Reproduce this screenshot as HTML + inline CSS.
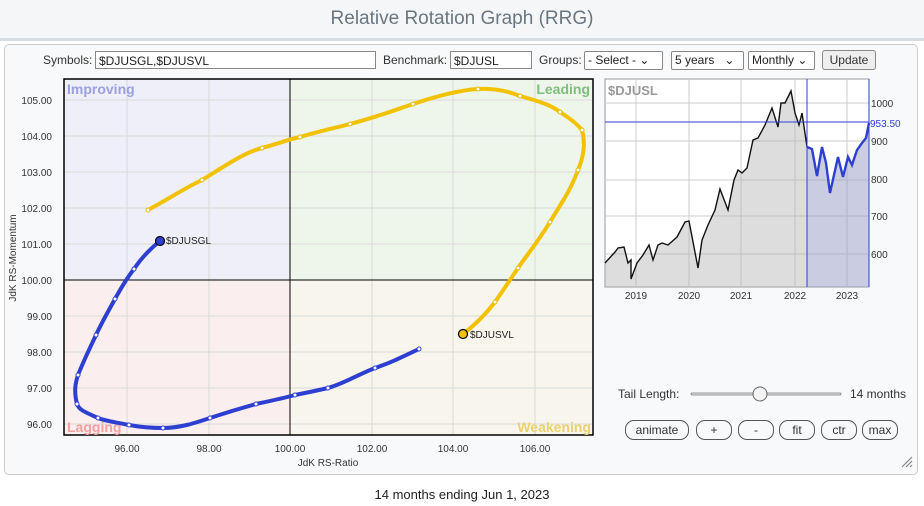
<!DOCTYPE html>
<html><head><meta charset="utf-8"><style>
body{margin:0;width:924px;height:506px;background:#fff;font-family:"Liberation Sans",Arial,sans-serif;overflow:hidden;position:relative}
.title{position:absolute;left:0;top:0;width:924px;height:38px;background:#f5f6f7;border-bottom:3px solid #d8dde2;text-align:center;line-height:38px;font-size:19px;color:#6b7680}
.panel{position:absolute;left:4px;top:44px;width:912px;height:429px;background:#f8f9fa;border:1px solid #ccc;border-radius:5px}
.lbl{position:absolute;font-size:12px;color:#333}
.inp{position:absolute;height:18px;border:1px solid #888;background:#fff;font-size:12px;line-height:18px;padding-left:3px;color:#222;box-sizing:border-box}
.sel{position:absolute;height:19px;border:1px solid #888;background:#fff;font-size:12px;line-height:17px;padding-left:3px;border-radius:2px;box-sizing:border-box;color:#222}
.btn{position:absolute;height:20px;border:1px solid #555;border-radius:9px;font-size:12px;line-height:19px;text-align:center;color:#333;box-sizing:border-box;background:#f8f9fa}
.foot{position:absolute;top:487px;left:0;width:924px;text-align:center;font-size:13px;color:#222}
</style></head><body>
<div class="title">Relative Rotation Graph (RRG)</div>
<div class="panel"></div>
<div class="lbl" style="left:43px;top:53px">Symbols:</div>
<div class="inp" style="left:95px;top:51px;width:281px">$DJUSGL,$DJUSVL</div>
<div class="lbl" style="left:383px;top:53px">Benchmark:</div>
<div class="inp" style="left:450px;top:51px;width:82px">$DJUSL</div>
<div class="lbl" style="left:539px;top:53px">Groups:</div>
<div class="sel" style="left:584px;top:51px;width:79px">- Select - ⌄</div>
<div class="sel" style="left:671px;top:51px;width:73px">5 years &nbsp;&nbsp;⌄</div>
<div class="sel" style="left:748px;top:51px;width:67px">Monthly ⌄</div>
<div class="btn" style="left:822px;top:50px;width:54px;border-radius:3px;background:#eee;border-color:#888">Update</div>

<svg width="924" height="506" style="position:absolute;left:0;top:0" font-family="Liberation Sans, Arial, sans-serif">
<rect x="64" y="79" width="226" height="201" fill="#eeeff8"/>
<rect x="290" y="79" width="303" height="201" fill="#eef5ea"/>
<rect x="64" y="280" width="226" height="155" fill="#fbeeee"/>
<rect x="290" y="280" width="303" height="155" fill="#f8f6ec"/>
<g stroke="#d9d9d9" stroke-width="1">
<line x1="127" y1="79" x2="127" y2="435"/><line x1="209" y1="79" x2="209" y2="435"/><line x1="372" y1="79" x2="372" y2="435"/><line x1="453" y1="79" x2="453" y2="435"/><line x1="535" y1="79" x2="535" y2="435"/>
<line x1="64" y1="100" x2="593" y2="100"/><line x1="64" y1="136" x2="593" y2="136"/><line x1="64" y1="172" x2="593" y2="172"/><line x1="64" y1="208" x2="593" y2="208"/><line x1="64" y1="244" x2="593" y2="244"/><line x1="64" y1="316" x2="593" y2="316"/><line x1="64" y1="352" x2="593" y2="352"/><line x1="64" y1="388" x2="593" y2="388"/><line x1="64" y1="424" x2="593" y2="424"/>
</g>
<line x1="290" y1="79" x2="290" y2="435" stroke="#000"/>
<line x1="64" y1="280" x2="593" y2="280" stroke="#000"/>
<rect x="64" y="79" width="529" height="356" fill="none" stroke="#000" stroke-width="1.5"/>
<g font-size="14" font-weight="bold">
<text x="67" y="94" fill="#9c9fe0">Improving</text>
<text x="590" y="94" fill="#7cc07a" text-anchor="end">Leading</text>
<text x="67" y="432" fill="#f3a0a0">Lagging</text>
<text x="591" y="432" fill="#ead070" text-anchor="end">Weakening</text>
</g>
<g font-size="10" fill="#333" text-anchor="end">
<text x="52" y="104">105.00</text><text x="52" y="140">104.00</text><text x="52" y="176">103.00</text><text x="52" y="212">102.00</text><text x="52" y="248">101.00</text><text x="52" y="284">100.00</text><text x="52" y="320">99.00</text><text x="52" y="356">98.00</text><text x="52" y="392">97.00</text><text x="52" y="428">96.00</text>
</g>
<g font-size="10" fill="#333" text-anchor="middle">
<text x="127" y="452">96.00</text><text x="209" y="452">98.00</text><text x="290" y="452">100.00</text><text x="372" y="452">102.00</text><text x="453" y="452">104.00</text><text x="535" y="452">106.00</text>
<text x="328" y="466">JdK RS-Ratio</text>
</g>
<text x="0" y="0" font-size="10" fill="#333" text-anchor="middle" transform="translate(16,258) rotate(-90)">JdK RS-Momentum</text>

<path d="M148,210 C170,198 185,188 202,180 C225,166 245,152 262,148 C280,143 290,139 300,137 C320,131 335,128 350,124 C380,116 395,110 413,104 C440,95 460,90 478,89 C495,88 508,91 520,96 C545,103 552,106 560,112 C572,120 577,124 582,130 C586,145 583,158 578,170 C570,192 560,205 550,222 C537,243 527,255 518,268 C508,283 502,292 495,302 C485,315 475,325 463,334" fill="none" stroke="#f2c200" stroke-width="4" stroke-linecap="round"/>
<g fill="#fff" stroke="#e8b800" stroke-width="1">
<circle cx="148" cy="210" r="2"/><circle cx="202" cy="180" r="2"/><circle cx="262" cy="148" r="2"/><circle cx="300" cy="137" r="2"/><circle cx="350" cy="124" r="2"/><circle cx="413" cy="104" r="2"/><circle cx="478" cy="89" r="2"/><circle cx="520" cy="96" r="2"/><circle cx="560" cy="112" r="2"/><circle cx="582" cy="130" r="2"/><circle cx="578" cy="170" r="2"/><circle cx="550" cy="222" r="2"/><circle cx="518" cy="268" r="2"/><circle cx="495" cy="302" r="2"/>
</g>
<circle cx="463" cy="334" r="4.5" fill="#f2c200" stroke="#000" stroke-width="1.2"/>
<text x="470" y="338" font-size="10" fill="#222">$DJUSVL</text>

<path d="M419,349 C400,358 390,363 375,368 C355,376 345,383 328,388 C315,391 305,393 295,395 C280,399 270,401 256,404 C238,409 225,413 210,418 C195,423 180,428 163,428 C150,428 140,427 129,425 C115,422 105,421 98,418 C85,412 79,410 77,404 C74,392 75,384 78,375 C84,360 89,350 96,335 C103,320 109,310 115,299 C121,288 127,278 134,269 C142,257 150,249 160,241" fill="none" stroke="#2d3fd0" stroke-width="4" stroke-linecap="round"/>
<g fill="#fff" stroke="#2d3fd0" stroke-width="1">
<circle cx="375" cy="368" r="2"/><circle cx="328" cy="388" r="2"/><circle cx="295" cy="395" r="2"/><circle cx="256" cy="404" r="2"/><circle cx="210" cy="418" r="2"/><circle cx="163" cy="428" r="2"/><circle cx="129" cy="425" r="2"/><circle cx="98" cy="418" r="2"/><circle cx="77" cy="404" r="2"/><circle cx="78" cy="375" r="2"/><circle cx="96" cy="335" r="2"/><circle cx="115" cy="299" r="2"/><circle cx="134" cy="269" r="2"/><circle cx="419" cy="349" r="2"/>
</g>
<circle cx="160" cy="241" r="4.5" fill="#2d3fd0" stroke="#000" stroke-width="1.2"/>
<text x="166" y="244" font-size="10" fill="#222">$DJUSGL</text>

<!-- right chart -->
<rect x="605" y="79" width="264" height="208" fill="#fff" stroke="#999"/>
<g stroke="#ccc" stroke-width="1">
<line x1="636" y1="79" x2="636" y2="287"/><line x1="689" y1="79" x2="689" y2="287"/><line x1="741" y1="79" x2="741" y2="287"/><line x1="795" y1="79" x2="795" y2="287"/><line x1="847" y1="79" x2="847" y2="287"/>
<line x1="605" y1="103" x2="869" y2="103"/><line x1="605" y1="141" x2="869" y2="141"/><line x1="605" y1="180" x2="869" y2="180"/><line x1="605" y1="216" x2="869" y2="216"/><line x1="605" y1="254" x2="869" y2="254"/>
</g>
<polygon points="605,263 615,252 618,248 624,247 628,263 631,260 631,279 637,263 643,255 649,245 653,260 658,245 662,243 668,245 677,237 685,222 689,221 698,268 702,240 708,225 715,210 720,189 728,210 734,180 738,170 742,173 747,168 753,140 758,138 765,125 772,108 778,127 781,103 785,103 791,91 795,113 799,125 802,113 807,147 807,287 605,287" fill="#b4b4b4" fill-opacity="0.45"/>
<polygon points="807,147 812,149 817,176 822,147 826,163 830,193 838,157 843,177 848,157 852,165 857,150 862,143 866,138 869,123 869,287 807,287" fill="#9ea3c8" fill-opacity="0.55"/>
<polyline points="605,263 615,252 618,248 624,247 628,263 631,260 631,279 637,263 643,255 649,245 653,260 658,245 662,243 668,245 677,237 685,222 689,221 698,268 702,240 708,225 715,210 720,189 728,210 734,180 738,170 742,173 747,168 753,140 758,138 765,125 772,108 778,127 781,103 785,103 791,91 795,113 799,125 802,113 807,147" fill="none" stroke="#111" stroke-width="1.4"/>
<polyline points="807,147 812,149 817,176 822,147 826,163 830,193 838,157 843,177 848,157 852,165 857,150 862,143 866,138 869,123" fill="none" stroke="#2d3fd0" stroke-width="2.4"/>
<line x1="807" y1="79" x2="807" y2="287" stroke="#2d3fd0"/>
<line x1="605" y1="122" x2="869" y2="122" stroke="#2d3fd0"/>
<line x1="869" y1="79" x2="869" y2="287" stroke="#2d3fd0"/>
<text x="608" y="95" font-size="13" font-weight="bold" fill="#999">$DJUSL</text>
<g font-size="10" fill="#333">
<text x="871" y="107">1000</text><text x="871" y="145">900</text><text x="871" y="183">800</text><text x="871" y="220">700</text><text x="871" y="258">600</text>
<text x="870" y="127" fill="#2d3fd0">953.50</text>
</g>
<g font-size="10" fill="#333" text-anchor="middle">
<text x="636" y="299">2019</text><text x="689" y="299">2020</text><text x="741" y="299">2021</text><text x="795" y="299">2022</text><text x="847" y="299">2023</text>
</g>
<text x="618" y="398" font-size="12" fill="#333">Tail Length:</text>
<line x1="692" y1="394" x2="840" y2="394" stroke="#999" stroke-width="3" stroke-linecap="round"/>
<line x1="692" y1="394" x2="840" y2="394" stroke="#ddd" stroke-width="1"/>
<circle cx="760" cy="394" r="7" fill="#f4f4f4" stroke="#666"/>
<text x="850" y="398" font-size="12" fill="#333">14 months</text>
<g stroke="#888" stroke-width="1.2"><line x1="902" y1="467" x2="912" y2="457"/><line x1="906" y1="467" x2="912" y2="461"/><line x1="910" y1="467" x2="912" y2="465"/></g>
</svg>
<div class="btn" style="left:625px;top:420px;width:64px">animate</div>
<div class="btn" style="left:696px;top:420px;width:36px">+</div>
<div class="btn" style="left:738px;top:420px;width:36px">-</div>
<div class="btn" style="left:779px;top:420px;width:36px">fit</div>
<div class="btn" style="left:821px;top:420px;width:36px">ctr</div>
<div class="btn" style="left:862px;top:420px;width:36px">max</div>
<div class="foot">14 months ending Jun 1, 2023</div>
</body></html>
